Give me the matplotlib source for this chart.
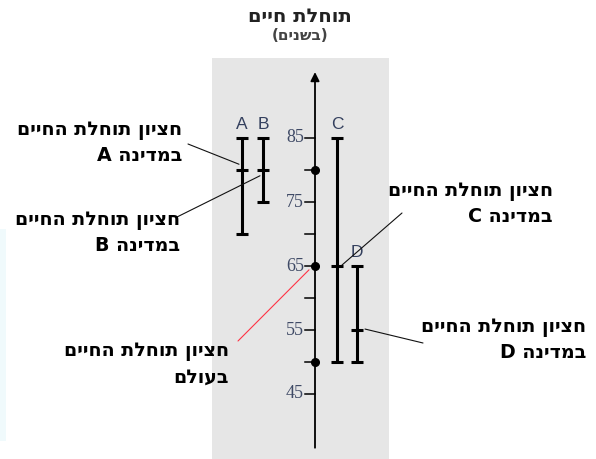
import matplotlib
matplotlib.use("Agg")
import matplotlib.pyplot as plt

# life expectancy per country (years): low, median, high
countries = ["A", "B", "C", "D"]
low = [70, 75, 50, 50]
median = [80, 80, 65, 55]
high = [85, 85, 85, 65]
# world: low, median, high (dots on the axis)
world = [50, 65, 80]
tick_values = [45, 50, 55, 60, 65, 70, 75, 80, 85]
tick_labels = [45, 55, 65, 75, 85]

title = "תוחלת חיים"
subtitle = "(בשנים)"
label_country = ["חציון תוחלת החיים\nבמדינה A", "חציון תוחלת החיים\nבמדינה B",
                 "חציון תוחלת החיים\nבמדינה C", "חציון תוחלת החיים\nבמדינה D"]
label_world = "חציון תוחלת החיים\nבעולם"


def heb(s):
    # matplotlib has no bidi: flip each line to visual order
    sw = str.maketrans("()", ")(")
    return "\n".join(line[::-1].translate(sw) for line in s.split("\n"))


W, H = 596, 459
fig = plt.figure(figsize=(W / 100, H / 100), dpi=100)
ax = fig.add_axes([0, 0, 1, 1])
ax.set_xlim(0, W)
# 10 years = 64 px, 45 sits at 394 px from the top
ax.set_ylim(45 - (H - 394) / 6.4, 45 + 394 / 6.4)
ax.axis("off")

heb_font = ["DejaVu Sans"]

# grey panel and faint strip on the left edge
ax.axvspan(212, 389, ymin=0, ymax=(H - 58) / H, color="#e6e6e6", lw=0, zorder=0)
ax.axvspan(0, 6, ymin=0.04, ymax=0.5, color="#f0fafc", lw=0, zorder=0)

# vertical axis with arrow
axis_x = 315
ax.annotate("", xy=(axis_x, 95.3), xytext=(axis_x, 36.6),
            arrowprops=dict(arrowstyle="-|>", lw=1.3, color="black",
                            mutation_scale=13, shrinkA=0, shrinkB=0))
for v in tick_values:
    ax.plot([axis_x - 10, axis_x], [v, v], color="black", lw=1.1)
for v in tick_labels:
    ax.text(axis_x - 11, v, str(v), ha="right", va="center", fontsize=13,
            family=["Liberation Serif", "DejaVu Serif"], color="#3f4a66")
ax.plot([axis_x] * len(world), world, "o", color="black", ms=5.5)

# country ranges
xpos = [242, 263, 337, 357]
cap = 6
for x, lo, md, hi, name in zip(xpos, low, median, high, countries):
    ax.plot([x, x], [lo, hi], color="black", lw=2.2, solid_capstyle="butt")
    for v in (lo, md, hi):
        ax.plot([x - cap, x + cap], [v, v], color="black", lw=2.2, solid_capstyle="butt")
    ax.text(x, hi + 0.9, name, ha="center", va="bottom", fontsize=12.5,
            family=["Liberation Sans", "DejaVu Sans"], color="#34405e")

# titles
fig.text(300 / W, 1 - 17 / H, heb(title), ha="center", va="center", fontsize=14,
         fontweight="bold", family=heb_font, color="#222222")
fig.text(300 / W, 1 - 36 / H, heb(subtitle), ha="center", va="center", fontsize=11,
         fontweight="bold", family=heb_font, color="#444444")

# labels with leader lines: text right edge / centre (image px), line start, end offset
label_pos = [(182, 143), (180, 233), (553, 204), (586, 340)]
line_start = [(188, 144), (177, 217), (402, 213), (423, 343)]
end_off = [(-3, 0.9), (-3, -0.9), (5, 0.15), (8, 0.15)]
for i in range(4):
    tx, ty = label_pos[i]
    fig.text(tx / W, 1 - ty / H, heb(label_country[i]), ha="right", va="center",
             multialignment="right", fontsize=13.7, fontweight="bold",
             family=heb_font, linespacing=1.45)
    sx, sy = line_start[i]
    dx, dy = end_off[i]
    ax.annotate("", xy=(xpos[i] + dx, median[i] + dy), xycoords="data",
                xytext=(sx, H - sy), textcoords="figure pixels",
                arrowprops=dict(arrowstyle="-", lw=0.8, color="#111111",
                                shrinkA=0, shrinkB=0))

fig.text(229 / W, 1 - 364 / H, heb(label_world), ha="right", va="center",
         multialignment="right", fontsize=13.7, fontweight="bold",
         family=heb_font, linespacing=1.45)
ax.annotate("", xy=(axis_x - 6, world[1] - 0.6), xycoords="data",
            xytext=(238, H - 341), textcoords="figure pixels",
            arrowprops=dict(arrowstyle="-", lw=0.8, color="#ff3344",
                            shrinkA=0, shrinkB=0))

fig.savefig("out.png", dpi=100)
